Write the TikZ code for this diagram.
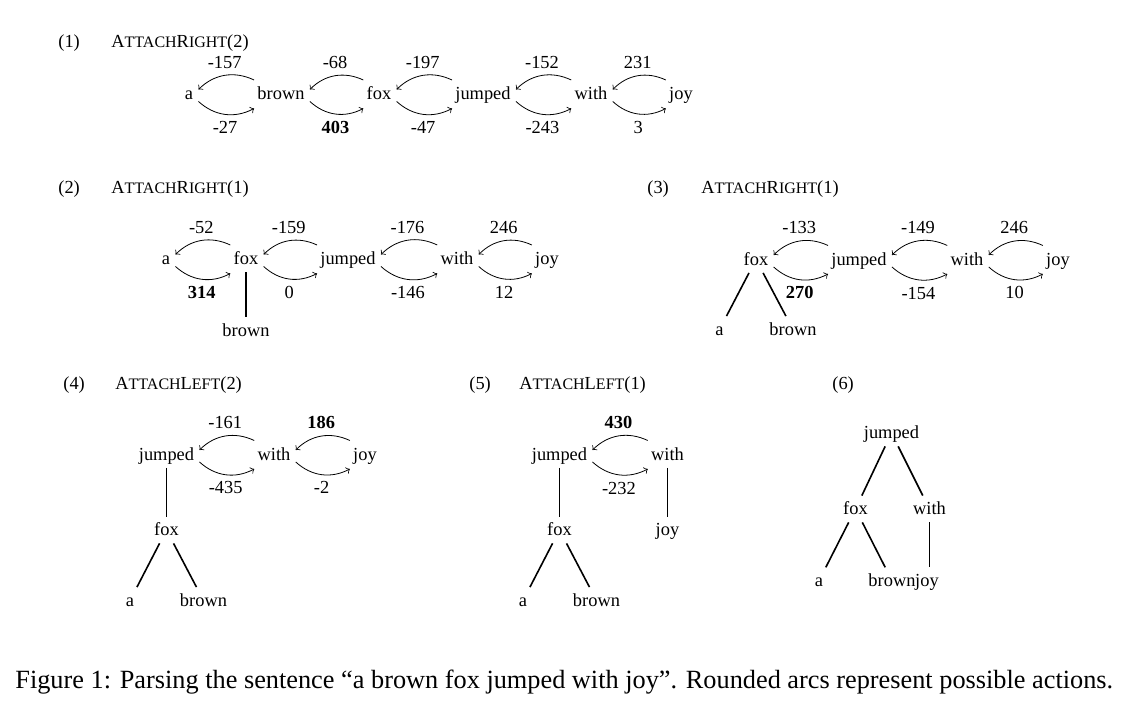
\documentclass[tikz,border=0pt]{standalone}
\usepackage{fontspec}
\setmainfont{Liberation Serif}
\usepackage{tikz}
\usetikzlibrary{calc}

\newcommand{\tinycaps}[1]{{\fontsize{8}{9}\selectfont #1}}
% two arcs between a left word and a right word
\newcommand{\arcpair}[4]{%
  \draw[arc] ([shift={(2,20)}]#2.base west) to[bend right=35] node[above] {#3} ([shift={(0,10.5)}]#1.base east);
  \draw[arc] ([shift={(0,-1.5)}]#1.base east) to[bend right=35] node[below] {#4} ([shift={(2,-8.5)}]#2.base west);}

\begin{document}
\begin{tikzpicture}[x=0.5pt, y=0.5pt,
    every node/.style={font=\fontsize{9.2}{11}\selectfont},
    word/.style={anchor=base, inner xsep=2.5pt, inner ysep=2.5pt, text height=7pt, text depth=1pt},
    arc/.style={->, line width=0.4pt},
    dep/.style={line width=0.8pt},
    tag/.style={anchor=base west, inner sep=0pt}]
    \useasboundingbox (0,0) rectangle (1132,-710);

    % (1)
    \node[tag] (num1) at (58,-48) {(1)};
    \node[tag] (act1) at (111,-48) {A\tinycaps{TTACH}R\tinycaps{IGHT}(2)};
    \node[word] (a1) at (189,-100) {a};
    \node[word] (brown1) at (281,-100) {brown};
    \node[word] (fox1) at (379,-100) {fox};
    \node[word] (jumped1) at (483,-100) {jumped};
    \node[word] (with1) at (591,-100) {with};
    \node[word] (joy1) at (681,-100) {joy};
    \arcpair{a1}{brown1}{-157}{-27}
    \arcpair{brown1}{fox1}{-68}{\textbf{403}}
    \arcpair{fox1}{jumped1}{-197}{-47}
    \arcpair{jumped1}{with1}{-152}{-243}
    \arcpair{with1}{joy1}{231}{3}

    % (2)
    \node[tag] (num2) at (58,-193.5) {(2)};
    \node[tag] (act2) at (111,-193.5) {A\tinycaps{TTACH}R\tinycaps{IGHT}(1)};
    \node[word] (a2) at (166,-265) {a};
    \node[word] (fox2) at (246,-265) {fox};
    \node[word] (jumped2) at (348,-265) {jumped};
    \node[word] (with2) at (457,-265) {with};
    \node[word] (joy2) at (547,-265) {joy};
    \node[word] (brown2) at (246,-336.5) {brown};
    \arcpair{a2}{fox2}{-52}{\textbf{314}}
    \arcpair{fox2}{jumped2}{-159}{0}
    \arcpair{jumped2}{with2}{-176}{-146}
    \arcpair{with2}{joy2}{246}{12}
    \draw[dep] (fox2) -- (brown2);

    % (3)
    \node[tag] (num3) at (647,-193.5) {(3)};
    \node[tag] (act3) at (701,-193.5) {A\tinycaps{TTACH}R\tinycaps{IGHT}(1)};
    \node[word] (fox3) at (756,-265.5) {fox};
    \node[word] (jumped3) at (859,-265.5) {jumped};
    \node[word] (with3) at (967,-265.5) {with};
    \node[word] (joy3) at (1058,-265.5) {joy};
    \node[word] (a3) at (719.5,-335.5) {a};
    \node[word] (brown3) at (793,-335.5) {brown};
    \arcpair{fox3}{jumped3}{-133}{\textbf{270}}
    \arcpair{jumped3}{with3}{-149}{-154}
    \arcpair{with3}{joy3}{246}{10}
    \draw[dep] (fox3) -- (a3);
    \draw[dep] (fox3) -- (brown3);

    % (4)
    \node[tag] (num4) at (63,-390) {(4)};
    \node[tag] (act4) at (115,-390) {A\tinycaps{TTACH}L\tinycaps{EFT}(2)};
    \node[word] (jumped4) at (166.5,-460.5) {jumped};
    \node[word] (with4) at (274,-460.5) {with};
    \node[word] (joy4) at (365,-460.5) {joy};
    \node[word] (fox4) at (166.5,-536) {fox};
    \node[word] (a4) at (130,-606.5) {a};
    \node[word] (brown4) at (203.5,-606.5) {brown};
    \arcpair{jumped4}{with4}{-161}{-435}
    \arcpair{with4}{joy4}{\textbf{186}}{-2}
    \draw[dep] (jumped4) -- (fox4);
    \draw[dep] (fox4) -- (a4);
    \draw[dep] (fox4) -- (brown4);

    % (5)
    \node[tag] (num5) at (469,-390) {(5)};
    \node[tag] (act5) at (519,-390) {A\tinycaps{TTACH}L\tinycaps{EFT}(1)};
    \node[word] (jumped5) at (559.5,-460.5) {jumped};
    \node[word] (with5) at (667.5,-460.5) {with};
    \node[word] (fox5) at (559.5,-536) {fox};
    \node[word] (joy5) at (667.5,-536) {joy};
    \node[word] (a5) at (523,-606.5) {a};
    \node[word] (brown5) at (596.5,-606.5) {brown};
    \arcpair{jumped5}{with5}{\textbf{430}}{-232}
    \draw[dep] (jumped5) -- (fox5);
    \draw[dep] (with5) -- (joy5);
    \draw[dep] (fox5) -- (a5);
    \draw[dep] (fox5) -- (brown5);

    % (6)
    \node[tag] (num6) at (832,-390) {(6)};
    \node[word] (jumped6) at (891.5,-439) {jumped};
    \node[word] (fox6) at (855.5,-515) {fox};
    \node[word] (with6) at (929.5,-515) {with};
    \node[word] (a6) at (819,-586.7) {a};
    \node[word] (brown6) at (892,-586.7) {brown};
    \node[word] (joy6) at (927,-586.7) {joy};
    \draw[dep] (jumped6) -- (fox6);
    \draw[dep] (jumped6) -- (with6);
    \draw[dep] (fox6) -- (a6);
    \draw[dep] (fox6) -- (brown6);
    \draw[dep] (with6) -- (joy6.north -| with6);

    % caption
    \node[anchor=base west, inner sep=0pt, font=\fontsize{13.15}{15}\selectfont] (caption) at (15,-689)
        {Figure 1: Parsing the sentence ``a brown fox jumped with joy''. Rounded arcs represent possible actions.};
\end{tikzpicture}
\end{document}
